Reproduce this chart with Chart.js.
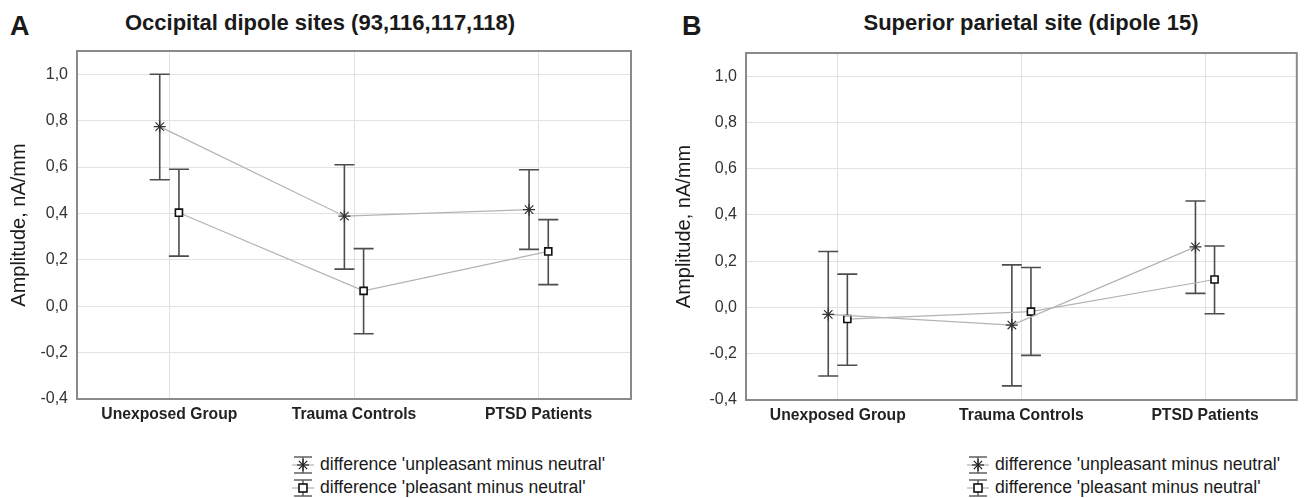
<!DOCTYPE html>
<html>
<head>
<meta charset="utf-8">
<script src="https://cdn.jsdelivr.net/npm/chart.js@4.4.1/dist/chart.umd.min.js"></script>
<style>
  body { margin: 0; background: #fff; width: 1304px; height: 498px; position: relative; overflow: hidden;
         font-family: "Liberation Sans", Arial, sans-serif; color: #1a1a1a; }
  .panel { position: absolute; top: 0; }
  .letter { position: absolute; font-weight: bold; font-size: 27px; line-height: 30px; }
  .title { position: absolute; font-weight: bold; font-size: 22px; line-height: 24px; white-space: nowrap; transform: translateX(-50%); }
  .legend { position: absolute; font-size: 17.6px; line-height: 23px; white-space: nowrap; }
  .legend div { display: flex; align-items: center; height: 23px; }
  .legend svg { margin-right: 6px; }
</style>
</head>
<body>
<div class="letter" style="left:10px; top:11px;">A</div>
<div class="title" style="left:320px; top:11px;">Occipital dipole sites (93,116,117,118)</div>
<div class="letter" style="left:682px; top:11px;">B</div>
<div class="title" style="left:1031px; top:11px;">Superior parietal site (dipole 15)</div>

<canvas id="chartA" class="panel" style="left:0px;" width="650" height="430"></canvas>
<canvas id="chartB" class="panel" style="left:652px;" width="652" height="430"></canvas>

<div class="legend" id="legendA" style="left:292px; top:453px;"></div>
<div class="legend" id="legendB" style="left:967px; top:453px;"></div>

<script>
// categorias y ticks
var categories = ['Unexposed Group', 'Trauma Controls', 'PTSD Patients'];
var yTicks = [-0.4, -0.2, 0.0, 0.2, 0.4, 0.6, 0.8, 1.0];
var seriesNames = ["difference 'unpleasant minus neutral'", "difference 'pleasant minus neutral'"];

// Panel A - occipital
var occUnpleasant     = [0.774, 0.388, 0.416];
var occUnpleasantLow  = [0.545, 0.160, 0.245];
var occUnpleasantHigh = [1.000, 0.610, 0.588];
var occPleasant       = [0.403, 0.066, 0.236];
var occPleasantLow    = [0.216, -0.119, 0.093];
var occPleasantHigh   = [0.590, 0.248, 0.373];

// Panel B - superior parietal
var parUnpleasant     = [-0.030, -0.076, 0.262];
var parUnpleasantLow  = [-0.296, -0.339, 0.061];
var parUnpleasantHigh = [0.242, 0.184, 0.460];
var parPleasant       = [-0.050, -0.018, 0.121];
var parPleasantLow    = [-0.250, -0.207, -0.027];
var parPleasantHigh   = [0.144, 0.173, 0.266];

Chart.defaults.font.family = '"Liberation Sans", Arial, sans-serif';
Chart.defaults.color = '#222';

var DODGE = 0.052; // desplazamiento horizontal de cada serie

// barras de error
var errorBars = {
  id: 'errorBars',
  beforeDatasetsDraw: function (chart) {
    var ctx = chart.ctx;
    var y = chart.scales.y;
    chart.data.datasets.forEach(function (ds, i) {
      var meta = chart.getDatasetMeta(i);
      meta.data.forEach(function (pt, j) {
        var top = y.getPixelForValue(ds.high[j]);
        var bot = y.getPixelForValue(ds.low[j]);
        ctx.save();
        ctx.strokeStyle = '#4d4d4d';
        ctx.lineWidth = 1.6;
        ctx.beginPath();
        ctx.moveTo(pt.x, top); ctx.lineTo(pt.x, bot);
        ctx.moveTo(pt.x - 10, top); ctx.lineTo(pt.x + 10, top);
        ctx.moveTo(pt.x - 10, bot); ctx.lineTo(pt.x + 10, bot);
        ctx.stroke();
        ctx.restore();
      });
    });
  }
};

// marco del area del grafico
var frame = {
  id: 'frame',
  afterDraw: function (chart) {
    var a = chart.chartArea, ctx = chart.ctx;
    ctx.save();
    ctx.strokeStyle = '#8a8a8a';
    ctx.lineWidth = 2;
    ctx.strokeRect(a.left, a.top, a.right - a.left, a.bottom - a.top);
    ctx.restore();
  }
};

function points(values, shift) {
  return values.map(function (v, i) { return { x: i + shift, y: v }; });
}

function makePanel(id, star, starLow, starHigh, sq, sqLow, sqHigh, box) {
  var ctx = document.getElementById(id).getContext('2d');
  return new Chart(ctx, {
    type: 'line',
    data: {
      datasets: [{
        label: seriesNames[0],
        data: points(star, -DODGE),
        low: starLow,
        high: starHigh,
        borderColor: '#b3b3b3',
        borderWidth: 1.2,
        pointStyle: 'star',
        pointRadius: 6,
        pointBorderColor: '#333',
        pointBorderWidth: 1.2,
        pointBackgroundColor: '#333'
      }, {
        label: seriesNames[1],
        data: points(sq, DODGE),
        low: sqLow,
        high: sqHigh,
        borderColor: '#b3b3b3',
        borderWidth: 1.2,
        pointStyle: 'rect',
        pointRadius: 5,
        pointBorderColor: '#111',
        pointBorderWidth: 1.6,
        pointBackgroundColor: '#fff'
      }]
    },
    options: {
      responsive: false,
      animation: false,
      layout: { padding: { left: 0, top: box.top, right: box.right, bottom: 0 } },
      plugins: { legend: { display: false }, tooltip: { enabled: false } },
      scales: {
        x: {
          type: 'linear',
          min: -0.5,
          max: 2.5,
          afterBuildTicks: function (axis) {
            axis.ticks = categories.map(function (c, i) { return { value: i }; });
          },
          afterFit: function (axis) { axis.height = box.xHeight; },
          ticks: {
            callback: function (v) { return categories[v]; },
            font: { size: 15.7, weight: 'bold' },
            color: '#222',
            padding: 6,
            maxRotation: 0
          },
          grid: { color: '#e2e2e2', lineWidth: 1, drawTicks: false },
          border: { display: false }
        },
        y: {
          min: -0.4,
          max: 1.1,
          afterBuildTicks: function (axis) {
            axis.ticks = yTicks.map(function (v) { return { value: v }; });
          },
          afterFit: function (axis) { axis.width = box.yWidth; },
          ticks: {
            callback: function (v) { return v.toFixed(1).replace('.', ','); },
            font: { size: 16 },
            color: '#333',
            padding: 9
          },
          grid: { color: '#e2e2e2', lineWidth: 1, drawTicks: false },
          border: { display: false },
          title: {
            display: true,
            text: 'Amplitude, nA/mm',
            font: { size: 20 },
            color: '#1a1a1a',
            padding: { top: box.titlePad, bottom: 0 }
          }
        }
      }
    },
    plugins: [errorBars, frame]
  });
}

makePanel('chartA', occUnpleasant, occUnpleasantLow, occUnpleasantHigh,
  occPleasant, occPleasantLow, occPleasantHigh,
  { top: 51, right: 19, yWidth: 77, xHeight: 31, titlePad: 7 });

makePanel('chartB', parUnpleasant, parUnpleasantLow, parUnpleasantHigh,
  parPleasant, parPleasantLow, parPleasantHigh,
  { top: 53, right: 5, yWidth: 94, xHeight: 30, titlePad: 20 });

// leyenda con iconos
function icon(kind) {
  var m = kind === 'star'
    ? '<g stroke="#222" stroke-width="1.2"><line x1="5" y1="10" x2="17" y2="10"/><line x1="11" y1="4" x2="11" y2="16"/>' +
      '<line x1="6.8" y1="5.8" x2="15.2" y2="14.2"/><line x1="6.8" y1="14.2" x2="15.2" y2="5.8"/></g>'
    : '<rect x="7" y="6" width="8" height="8" fill="#fff" stroke="#111" stroke-width="1.6"/>';
  return '<svg width="22" height="20" viewBox="0 0 22 20">' +
    '<line x1="0" y1="10" x2="22" y2="10" stroke="#b3b3b3" stroke-width="1.2"/>' +
    '<g stroke="#555" stroke-width="1.4"><line x1="2" y1="2" x2="20" y2="2"/><line x1="2" y1="18" x2="20" y2="18"/>' +
    '<line x1="11" y1="2" x2="11" y2="18"/></g>' + m + '</svg>';
}

['legendA', 'legendB'].forEach(function (id) {
  document.getElementById(id).innerHTML =
    '<div>' + icon('star') + '<span>' + seriesNames[0] + '</span></div>' +
    '<div>' + icon('rect') + '<span>' + seriesNames[1] + '</span></div>';
});
</script>
</body>
</html>
